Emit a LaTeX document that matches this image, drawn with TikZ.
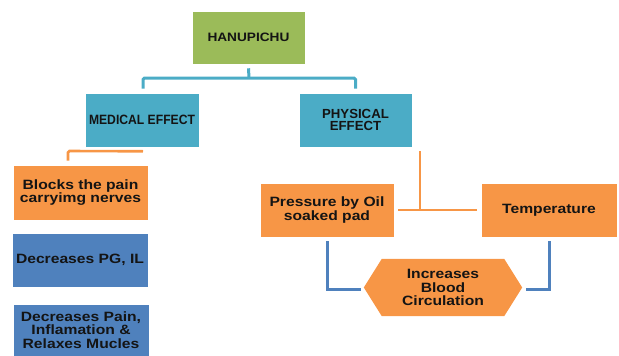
\documentclass[tikz,border=0pt]{standalone}
\usepackage{fontspec}
\setmainfont{Liberation Sans}
\newfontfamily\fw[FakeStretch=1.16]{Liberation Sans}
\newfontfamily\fm[FakeStretch=1.12]{Liberation Sans}
\newfontfamily\fn{Liberation Sans}
\newfontfamily\fc[FakeStretch=0.9]{Liberation Sans}
\usetikzlibrary{calc}
\definecolor{cgreen}{HTML}{9BBB59}
\definecolor{cteal}{HTML}{4BACC6}
\definecolor{corange}{HTML}{F79646}
\definecolor{cblue}{HTML}{4F81BD}
\definecolor{ctext}{HTML}{141414}
\tikzset{
  box/.style={draw=white, line width=0.6pt, inner sep=0pt, align=center, text=ctext},
  wtxt/.style={font=\fw\bfseries\fontsize{13.5}{13.3}\selectfont},
  tl/.style={draw=cteal, line width=3pt, rounded corners=1.5pt},
  ol/.style={draw=corange, line width=2.6pt, rounded corners=1.5pt},
  bl/.style={draw=cblue, line width=3pt},
}
\begin{document}
\begin{tikzpicture}[x=1pt,y=-1pt]
\useasboundingbox (0,0) rectangle (619,356);
% top
\node[box, fill=cgreen, minimum width=113pt, minimum height=53pt,
  font=\fm\bfseries\fontsize{12.2}{13.3}\selectfont] (han) at (248.5,37.5) {HANUPICHU};
\node[box, fill=cteal, minimum width=114pt, minimum height=54pt,
  font=\fc\bfseries\fontsize{13.5}{13.3}\selectfont] (med) at (142,120) {MEDICAL EFFECT};
\node[box, fill=cteal, minimum width=113pt, minimum height=54pt,
  font=\fn\bfseries\fontsize{13.2}{12.7}\selectfont] (phy) at (355.5,120) {PHYSICAL\\EFFECT};
% left column
\node[box, wtxt, fill=corange, minimum width=135pt, minimum height=55pt] (blk) at (80.5,192.5) {Blocks the pain\\carryimg nerves};
\node[box, wtxt, fill=cblue, minimum width=136pt, minimum height=54pt] (dpg) at (80,260) {Decreases PG, IL};
\node[box, wtxt, fill=cblue, minimum width=136pt, minimum height=52pt] (dpn) at (81,330) {Decreases Pain,\\Inflamation \&\\Relaxes Mucles};
% right part
\node[box, wtxt, fill=corange, minimum width=134pt, minimum height=54pt] (prs) at (327,210) {Pressure by Oil\\soaked pad};
\node[box, wtxt, fill=corange, minimum width=136pt, minimum height=54pt] (tmp) at (549,210) {Temperature};
\node[inner sep=0pt, minimum width=158pt, minimum height=57pt] (hex) at (443,287.5) {};
\fill[corange] (hex.west) -- ([xshift=18pt]hex.north west) -- ([xshift=-18pt]hex.north east)
  -- (hex.east) -- ([xshift=-18pt]hex.south east) -- ([xshift=18pt]hex.south west) -- cycle;
\node[wtxt, align=center, text=ctext, inner sep=0pt] (hext) at (hex.center) {Increases\\Blood\\Circulation};
% connectors
\coordinate (hj) at (249,78);
\draw[tl] ($(han.south)+(0,4)$) -- (hj);
\draw[tl] ($(med.north)+(1,-4)$) |- (hj) -| ($(phy.north)+(0,-4)$);
\coordinate (mj) at (68,151);
\draw[ol] ($(med.south)+(1,4)$) -- (mj) -- ($(mj |- blk.north)+(0,-4)$);
\coordinate (pj) at (420,210);
\draw[ol] ($(pj |- phy.south)+(0,4)$) -- (pj);
\draw[ol] ($(prs.east)+(4,0)$) -- ($(tmp.west)+(-4,0)$);
\draw[bl] ($(prs.south)+(0,4)$) |- ($(hex.west)+(-3,1.5)$);
\draw[bl] ($(tmp.south)+(0,4)$) |- ($(hex.east)+(4,1.5)$);
\end{tikzpicture}
\end{document}
